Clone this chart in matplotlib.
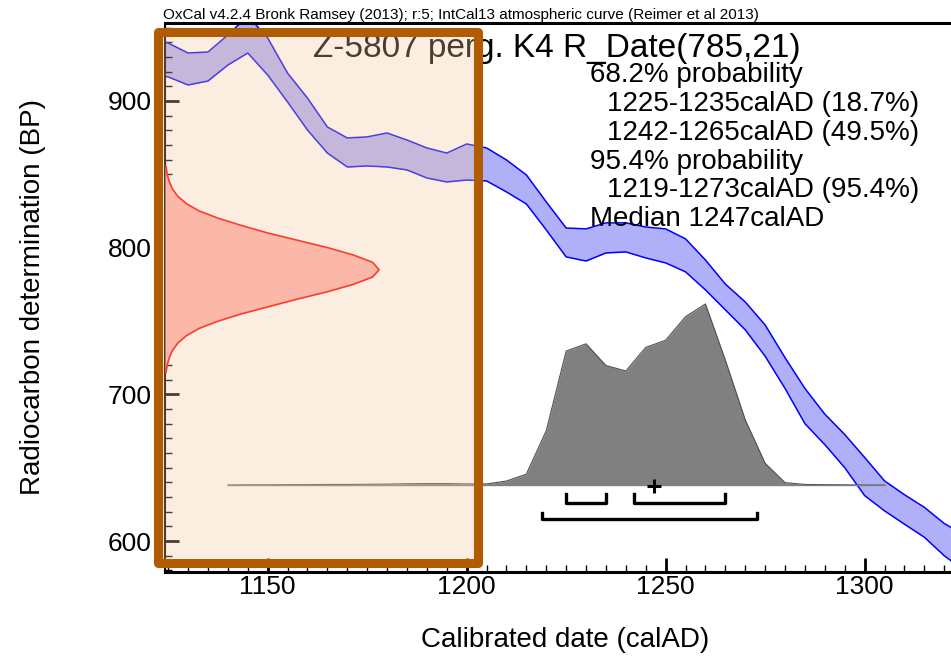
import matplotlib
matplotlib.use('Agg')
import matplotlib.pyplot as plt
from matplotlib.patches import Rectangle
from matplotlib.ticker import MultipleLocator

plt.rcParams['font.family'] = ['Liberation Sans', 'DejaVu Sans']

# ── data ─────────────────────────────────────────────────────────────────────
# IntCal13 curve, 1-sigma envelope (calAD -> BP)
cal_years = [1120, 1125, 1130, 1135, 1140, 1145, 1150, 1155, 1160, 1165, 1170,
             1175, 1180, 1185, 1190, 1195, 1200, 1205, 1210, 1215, 1220, 1225,
             1230, 1235, 1240, 1245, 1250, 1255, 1260, 1265, 1270, 1275, 1280,
             1285, 1290, 1295, 1300, 1305, 1310, 1315, 1320, 1325]
cal_upper = [944, 939.5, 932.7, 933.4, 945, 958, 943, 919, 902, 882.3, 874.8,
             875.5, 878.2, 873.4, 868, 864.5, 870.7, 868, 859.8, 849.6, 831.2, 813.4,
             812.8, 816.9, 816.9, 814.1, 812.8, 806, 791.6, 775.2, 763, 747.3, 725,
             704, 686.5, 672.6, 657, 641, 631.6, 623, 612, 604]
cal_lower = [919, 916.4, 910.9, 913.6, 924.5, 932.7, 917.7, 899.3, 880.2, 864.5, 855,
             855.7, 855, 853, 847.5, 844.8, 846.1, 845.5, 838, 829.8, 812.1, 793.7,
             790.9, 796.4, 797.1, 793, 789.6, 783.5, 771.2, 757.6, 744, 726, 704,
             680, 665.7, 650, 631, 620.6, 611.5, 602.6, 590, 580]

# R_Date(785,21) - relative probability on the BP axis
rc_bp = [855, 850, 845, 840, 835, 830, 825, 820, 815, 810, 805, 800, 795, 790, 785,
         780, 775, 770, 765, 760, 755, 750, 745, 740, 735, 730, 725, 720, 715]
rc_dens = [0.005, 0.01, 0.02, 0.035, 0.06, 0.10, 0.16, 0.25, 0.36, 0.48, 0.62, 0.76,
           0.88, 0.97, 1.0, 0.97, 0.88, 0.76, 0.62, 0.49, 0.36, 0.25, 0.16, 0.10,
           0.06, 0.035, 0.02, 0.01, 0.005]

# calibrated date - relative probability on the calAD axis
post_years = [1140, 1145, 1150, 1155, 1160, 1165, 1170, 1175, 1180, 1185, 1190, 1195,
              1200, 1205, 1210, 1215, 1220, 1225, 1230, 1235, 1240, 1245, 1250, 1255,
              1260, 1265, 1270, 1275, 1280, 1285, 1290, 1295, 1300, 1305]
post_dens = [0.0, 0.001, 0.001, 0.002, 0.002, 0.003, 0.003, 0.004, 0.005, 0.007, 0.008,
             0.008, 0.006, 0.006, 0.022, 0.06, 0.30, 0.74, 0.78, 0.66, 0.63, 0.76, 0.80,
             0.93, 1.0, 0.69, 0.36, 0.12, 0.013, 0.003, 0.002, 0.001, 0.0, 0.0]

ranges_68 = [(1225, 1235), (1242, 1265)]
ranges_95 = [(1219, 1273)]
median = 1247

summary = [('68.2% probability', 0), ('1225-1235calAD (18.7%)', 1),
           ('1242-1265calAD (49.5%)', 1), ('95.4% probability', 0),
           ('1219-1273calAD (95.4%)', 1), ('Median 1247calAD', 0)]

W, H = 951, 656
fig = plt.figure(figsize=(W / 100, H / 100), dpi=100)
ax = fig.add_axes([165 / W, 1 - 572 / H, 786 / W, 549.5 / H])

# ── calibration curve ───────────────────────────────────────────────────────
ax.fill_between(cal_years, cal_lower, cal_upper, color='#b0b0f8', lw=0)
ax.plot(cal_years, cal_upper, color='#0000ff', lw=1.1)
ax.plot(cal_years, cal_lower, color='#0000ff', lw=1.1)
ax.set_xlim(1124.2, 1321.7)
ax.set_ylim(578.9, 953.5)

ax.xaxis.set_major_locator(MultipleLocator(50))
ax.xaxis.set_minor_locator(MultipleLocator(5))
ax.yaxis.set_major_locator(MultipleLocator(100))
ax.yaxis.set_minor_locator(MultipleLocator(10))
ax.tick_params(axis='x', which='both', direction='in', top=False, pad=2, labelsize=19)
ax.tick_params(axis='y', which='both', direction='in', right=False, pad=9.5, labelsize=19)
ax.tick_params(which='major', length=10, width=2)
ax.tick_params(which='minor', length=5, width=1)
ax.spines['right'].set_visible(False)
ax.spines['top'].set_linewidth(2.2)
ax.spines['bottom'].set_linewidth(2.2)
ax.spines['left'].set_linewidth(1.5)

# ── radiocarbon date on the y axis ──────────────────────────────────────────
axr = ax.twiny()
axr.fill_betweenx(rc_bp, 0, rc_dens, color='#ffb2b2', lw=0)
axr.plot(rc_dens, rc_bp, color='#ff0000', lw=1.2)
axr.set_xlim(0, 3.672)
axr.axis('off')

# ── calibrated distribution on the x axis ───────────────────────────────────
axg = ax.twinx()
axg.fill_between(post_years, 0, post_dens, color='#808080', lw=0)
axg.plot(post_years, post_dens, color='#505050', lw=0.8)
axg.plot([post_years[0], post_years[-1]], [0, 0], color='#808080', lw=1)
for lo, hi in ranges_68:
    axg.plot([lo, lo, hi, hi], [-0.05, -0.099, -0.099, -0.05], color='k', lw=2.4)
for lo, hi in ranges_95:
    axg.plot([lo, lo, hi, hi], [-0.153, -0.188, -0.188, -0.153], color='k', lw=2.4)
axg.plot(median, -0.006, marker='+', ms=10, mew=2.2, color='k')
axg.set_xlim(1124.2, 1321.7)
axg.set_ylim(-0.4806, 2.555)
axg.axis('off')

# ── text ────────────────────────────────────────────────────────────────────
fig.text(163 / W, 1 - 19 / H,
         'OxCal v4.2.4 Bronk Ramsey (2013); r:5; IntCal13 atmospheric curve (Reimer et al 2013)',
         fontsize=11, va='baseline')
fig.text(313 / W, 1 - 57 / H, 'Z-5807 perg. K4 R_Date(785,21)', fontsize=24, va='baseline')
for i, (line, indent) in enumerate(summary):
    fig.text((590 + 17 * indent) / W, 1 - (82 + 28.85 * i) / H, line,
             fontsize=20, va='baseline')
fig.text(565.5 / W, 1 - 640 / H, 'Calibrated date (calAD)', fontsize=20,
         ha='center', va='center')
fig.text(33 / W, 1 - 297 / H, 'Radiocarbon determination (BP)', fontsize=20,
         rotation=90, ha='center', va='center')

# ── highlight box ───────────────────────────────────────────────────────────
box = dict(xy=(158 / W, 1 - 562.5 / H), width=320 / W, height=530.8 / H,
           transform=fig.transFigure)
fig.patches.append(Rectangle(**box, facecolor='#f5c898', alpha=0.31, lw=0, zorder=10))
fig.patches.append(Rectangle(**box, facecolor='none', edgecolor='#b15b03', lw=6.5,
                             joinstyle='round', zorder=11))

plt.savefig('out.png', dpi=100)
